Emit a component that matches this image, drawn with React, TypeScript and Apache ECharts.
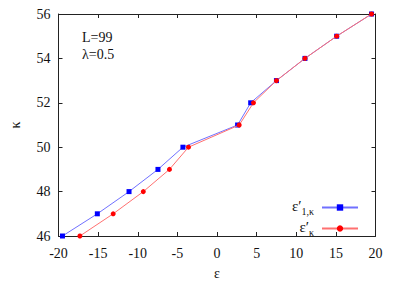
import React, { useEffect, useRef } from 'react';
import * as echarts from 'echarts';

const kappa = [46, 47, 48, 49, 50, 51, 52, 53, 54, 55, 56];
const eps1Kappa = [-19.5, -15.1, -11.1, -7.45, -4.3, 2.6, 4.25, 7.5, 11.1, 15.1, 19.5];
const epsKappa = [-17.3, -13.1, -9.3, -6.0, -3.6, 2.8, 4.6, 7.5, 11.1, 15.1, 19.5];
const xRange = [-20, 20];
const yRange = [46, 56];
const annotations = ['L=99', 'λ=0.5'];

const FONT = 'Liberation Serif';

export default function App() {
  const ref = useRef<HTMLDivElement>(null);
  useEffect(() => {
    if (!ref.current) return;
    const chart = echarts.init(ref.current, null, { renderer: 'svg' });
    const axisLine = { show: true, onZero: false, lineStyle: { color: '#222', width: 1 } };
    const axisTick = { show: true, inside: true, length: 4, lineStyle: { color: '#222', width: 1 } };
    const labelStyle = { fontFamily: FONT, fontSize: 14, color: '#111' };
    const rich = {
      e: { fontFamily: FONT, fontSize: 15, color: '#111', lineHeight: 14, padding: [0, 0, 4, 0] },
      s: { fontFamily: FONT, fontSize: 10, color: '#111', lineHeight: 10, padding: [8, 0, 0, 0] },
    };
    const legendBase = {
      orient: 'horizontal',
      right: 48,
      padding: 0,
      align: 'right',
      itemWidth: 36,
      itemHeight: 8,
      itemGap: 0,
      formatter: (name: string) => (name === 'eps1k' ? '{e|ε′}{s|1,κ}' : '{e|ε′}{s|κ}'),
      textStyle: { fontFamily: FONT, color: '#111', rich, padding: [0, 3, 0, 0] },
    };
    chart.setOption({
      animation: false,
      backgroundColor: '#fff',
      textStyle: { fontFamily: FONT },
      grid: { left: 58.5, right: 31.5, top: 14, bottom: 44, containLabel: false },
      xAxis: [
        {
          type: 'value', min: xRange[0], max: xRange[1], interval: 5, position: 'bottom',
          axisLine, axisTick, splitLine: { show: false },
          axisLabel: { ...labelStyle, margin: 10 },
          name: 'ε', nameLocation: 'middle', nameGap: 30,
          nameTextStyle: { fontFamily: FONT, fontSize: 14, color: '#111' },
        },
        {
          type: 'value', min: xRange[0], max: xRange[1], interval: 5, position: 'top',
          axisLine, axisTick, splitLine: { show: false }, axisLabel: { show: false },
        },
      ],
      yAxis: [
        {
          type: 'value', min: yRange[0], max: yRange[1], interval: 2, position: 'left',
          axisLine, axisTick, splitLine: { show: false },
          axisLabel: { ...labelStyle, margin: 8 },
          name: 'κ', nameLocation: 'middle', nameGap: 36, nameRotate: 90,
          nameTextStyle: { fontFamily: FONT, fontSize: 14, color: '#111' },
        },
        {
          type: 'value', min: yRange[0], max: yRange[1], interval: 2, position: 'right',
          axisLine, axisTick, splitLine: { show: false }, axisLabel: { show: false },
        },
      ],
      legend: [
        { ...legendBase, top: 198, data: ['eps1k'] },
        { ...legendBase, top: 219, data: ['epsk'] },
      ],
      graphic: [
        { type: 'text', left: 82, top: 30, style: { text: annotations[0], fontFamily: FONT, fontSize: 14, fill: '#111' } },
        { type: 'text', left: 82, top: 47, style: { text: annotations[1], fontFamily: FONT, fontSize: 14, fill: '#111' } },
      ],
      series: [
        {
          name: 'eps1k', type: 'line',
          data: eps1Kappa.map((e, i) => [e, kappa[i]]),
          symbol: 'rect', symbolSize: 5,
          itemStyle: { color: '#0000ff' },
          lineStyle: { color: '#7070ff', width: 1 },
          z: 2,
        },
        {
          name: 'epsk', type: 'line',
          data: epsKappa.map((e, i) => [e, kappa[i]]),
          symbol: 'circle', symbolSize: 5,
          itemStyle: { color: '#ff0000' },
          lineStyle: { color: '#ff7070', width: 1 },
          z: 3,
        },
      ],
    });
    return () => chart.dispose();
  }, []);
  return <div ref={ref} style={{ position: 'fixed', left: 0, top: 0, width: 407, height: 285 }} />;
}
